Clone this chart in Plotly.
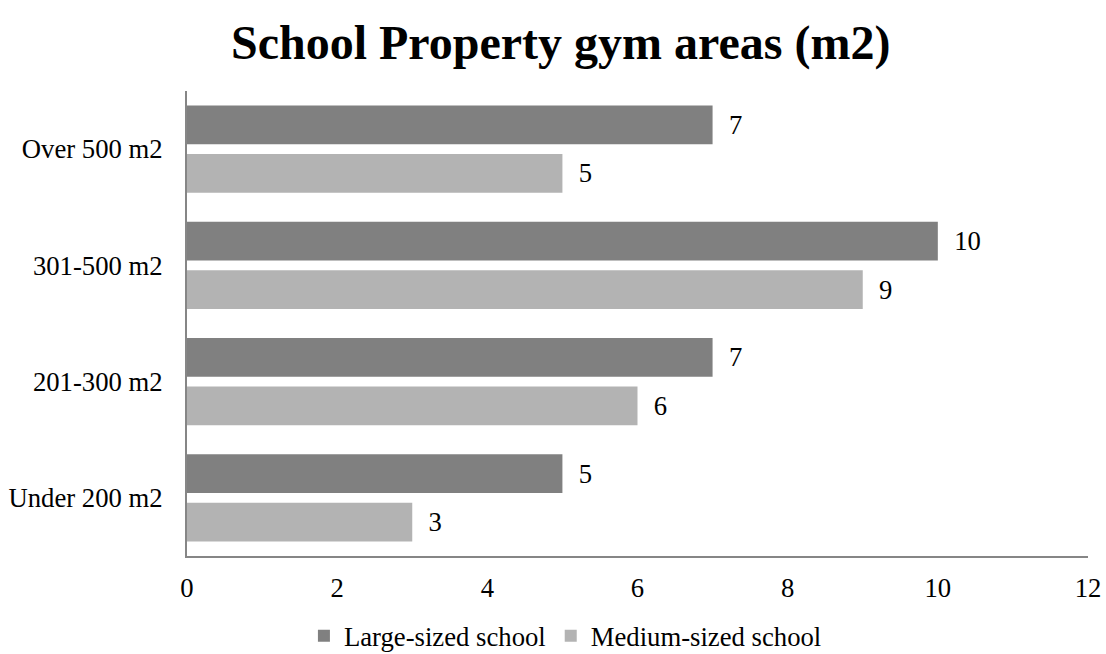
import plotly.graph_objects as go

categories = ["Under 200 m2", "201-300 m2", "301-500 m2", "Over 500 m2"]
large = [5, 7, 10, 7]
medium = [3, 6, 9, 5]
series_names = ["Large-sized school", "Medium-sized school"]
colors = ["#808080", "#b3b3b3"]
x_ticks = [0, 2, 4, 6, 8, 10, 12]

font = "Liberation Serif, Times New Roman, serif"
fs = 26.7

fig = go.Figure()
# Medium first so that Large sits above within each group (horizontal bars stack from bottom)
fig.add_trace(go.Bar(y=categories, x=medium, orientation="h", name=series_names[1],
                     marker=dict(color=colors[1], line=dict(width=0)),
                     text=[str(v) for v in medium], textposition="outside",
                     texttemplate="  %{text}", cliponaxis=False,
                     textfont=dict(family=font, size=fs, color="#000000")))
fig.add_trace(go.Bar(y=categories, x=large, orientation="h", name=series_names[0],
                     marker=dict(color=colors[0], line=dict(width=0)),
                     text=[str(v) for v in large], textposition="outside",
                     texttemplate="  %{text}", cliponaxis=False,
                     textfont=dict(family=font, size=fs, color="#000000")))

fig.update_layout(
    width=1106, height=654,
    margin=dict(l=187, r=18, t=91, b=98, autoexpand=False),
    paper_bgcolor="white", plot_bgcolor="white",
    barmode="group", bargap=0.162, bargroupgap=0.205,
    title=dict(text="<b>School Property gym areas (m2)</b>", x=0.507, xanchor="center",
               xref="container", y=0.935, yanchor="middle",
               font=dict(family=font, size=48, color="#000000")),
    font=dict(family=font, size=fs, color="#000000"),
    showlegend=True,
    legend=dict(orientation="h", x=0.42, xanchor="center", y=-0.12, yanchor="top",
                traceorder="reversed", font=dict(family=font, size=fs, color="#000000"),
                itemwidth=30, tracegroupgap=0),
    xaxis=dict(range=[0, 12], tickvals=x_ticks, showgrid=False, zeroline=False,
               showline=True, linecolor="#868686", linewidth=2, ticks="",
               ticklabelstandoff=7, automargin=False, tickfont=dict(family=font, size=fs)),
    yaxis=dict(showgrid=False, zeroline=False, showline=True, linecolor="#868686",
               linewidth=2, ticks="", ticklabelstandoff=17, automargin=False,
               tickfont=dict(family=font, size=fs)),
)

fig.write_html("out.html")
